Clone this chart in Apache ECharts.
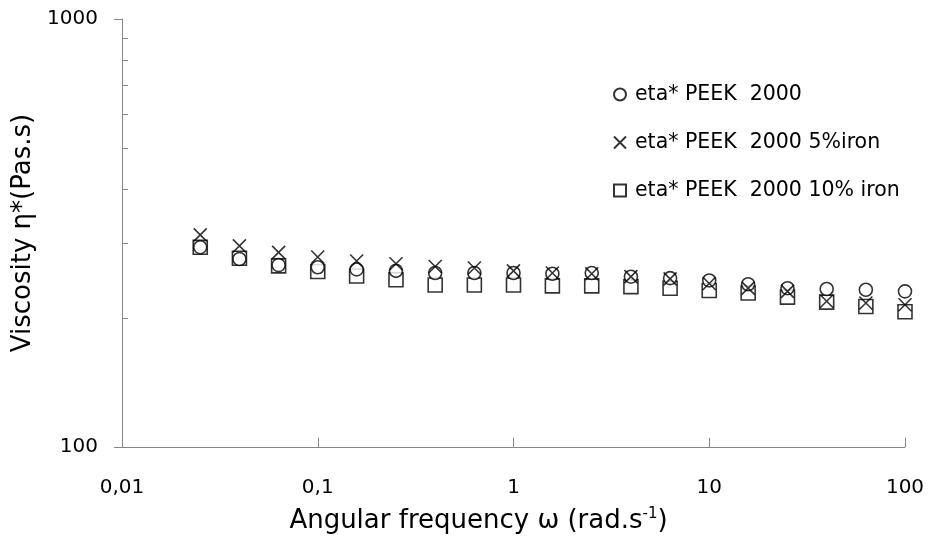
<!DOCTYPE html>
<html>
<head>
<meta charset="utf-8">
<script src="https://cdn.jsdelivr.net/npm/echarts@6/dist/echarts.min.js"></script>
<style>
  html, body { margin: 0; padding: 0; background: #fff; }
  #main { width: 930px; height: 547px; }
</style>
</head>
<body>
<div id="main"></div>
<script>
// angular frequency (rad/s)
var freq = [0.0251, 0.0398, 0.0631, 0.1, 0.158, 0.251, 0.398, 0.631, 1, 1.58,
            2.51, 3.98, 6.31, 10, 15.8, 25.1, 39.8, 63.1, 100];
// complex viscosity (Pa.s)
var peek = [293, 275, 266, 263, 260, 258, 255, 255, 255, 254,
            255, 250, 248, 245, 240, 235, 234, 233, 231];
var peek5 = [313, 295, 285, 278, 272, 268, 264, 262, 258, 255,
             254, 250, 247, 241, 235, 231, 219, 217, 215];
var peek10 = [293, 276, 265, 257, 251, 246, 239, 239, 239, 238,
              238, 237, 235, 232, 229, 224, 218, 213, 207];
var seriesNames = ['eta* PEEK  2000', 'eta* PEEK  2000 5%iron', 'eta* PEEK  2000 10% iron'];
var minorY = [200, 300, 400, 500, 600, 700, 800, 900];

var FONT = 'DejaVu Sans';
var axisGray = '#868686';

function pairs(ys) {
    return freq.map(function (f, i) { return [f, ys[i]]; });
}

var crossPath = 'path://M0,0L10,10M10,0L0,10';

var myChart = echarts.init(document.getElementById('main'));
var option = {
    animation: false,
    textStyle: { fontFamily: FONT, color: '#000' },
    grid: { left: 122, right: 25, top: 19, bottom: 100, containLabel: false },
    legend: {
        orient: 'vertical',
        left: 608,
        top: 79,
        itemGap: 27,
        itemWidth: 12,
        itemHeight: 12,
        textStyle: { fontFamily: FONT, fontSize: 20.5, color: '#000', padding: [0, 0, 0, 4] },
        data: seriesNames
    },
    xAxis: {
        type: 'log',
        logBase: 10,
        min: 0.01,
        max: 100,
        name: 'Angular frequency ω (rad.s{sup|-1})',
        nameLocation: 'middle',
        nameGap: 60,
        nameTextStyle: {
            fontFamily: FONT, fontSize: 26, color: '#000',
            padding: [0, 70, 0, 0],
            rich: { sup: { fontFamily: FONT, fontSize: 15, color: '#000', padding: [0, 0, 13, 0] } }
        },
        axisLine: { lineStyle: { color: axisGray, width: 1 } },
        axisTick: { inside: true, length: 9, lineStyle: { color: axisGray } },
        axisLabel: {
            fontFamily: FONT, fontSize: 20, color: '#000', margin: 31,
            formatter: function (v) { return String(v).replace('.', ','); }
        },
        splitLine: { show: false }
    },
    yAxis: [{
        type: 'log',
        logBase: 10,
        min: 100,
        max: 1000,
        name: 'Viscosity η*(Pas.s)',
        nameLocation: 'middle',
        nameGap: 86,
        nameTextStyle: { fontFamily: FONT, fontSize: 26, color: '#000' },
        axisLine: { show: true, lineStyle: { color: axisGray, width: 1 } },
        axisTick: { show: true, inside: false, length: 8, lineStyle: { color: axisGray } },
        axisLabel: {
            fontFamily: FONT, fontSize: 20, color: '#000', margin: 24,
            formatter: function (v) { return String(v); }
        },
        splitLine: { show: false }
    }, {
        // minor ticks of the log axis, drawn on a linear log10 copy
        type: 'value',
        position: 'left',
        min: 2,
        max: 3,
        axisLine: { show: false },
        axisLabel: { show: false },
        splitLine: { show: false },
        axisTick: {
            show: true, inside: true, length: 6,
            lineStyle: { color: axisGray },
            customValues: minorY.map(function (v) { return Math.log10(v); })
        }
    }],
    series: [{
        name: seriesNames[0],
        type: 'scatter',
        symbol: 'circle',
        symbolSize: 13,
        itemStyle: { color: '#fff', borderColor: '#000', borderWidth: 1.6 },
        data: pairs(peek),
        z: 3
    }, {
        name: seriesNames[1],
        type: 'scatter',
        symbol: crossPath,
        symbolSize: 13,
        itemStyle: { color: 'rgba(0,0,0,0)', borderColor: '#000', borderWidth: 1.6 },
        data: pairs(peek5),
        z: 4
    }, {
        name: seriesNames[2],
        type: 'scatter',
        symbol: 'rect',
        symbolSize: 14,
        itemStyle: { color: 'rgba(0,0,0,0)', borderColor: '#000', borderWidth: 1.6 },
        data: pairs(peek10),
        z: 2
    }]
};
myChart.setOption(option);
</script>
</body>
</html>
